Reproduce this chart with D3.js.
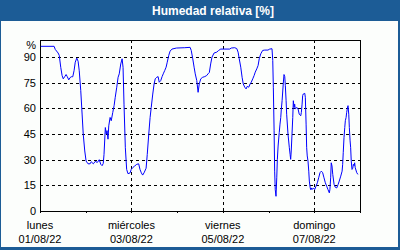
<!DOCTYPE html>
<html>
<head>
<meta charset="utf-8">
<title>Humedad relativa</title>
<style>
  body { margin: 0; background: #fff; }
  svg text { font-family: "Liberation Sans", Arial, sans-serif; }
  .grid line { stroke: #000; stroke-dasharray: 3,3; }
  .axis path, .axis line { stroke: #000; }
</style>
</head>
<body>
<div id="chart"></div>
<script src="https://d3js.org/d3.v7.min.js"></script>
<script>
// horas desde el lunes 01/08/22 00:00 y humedad relativa (%)
const hours = [0.4, 7.4, 8.0, 9.5, 10.1, 10.9, 11.6, 12.2, 13.0, 13.7, 14.3, 15.1, 15.8, 16.4, 17.2, 17.9, 18.5, 19.3, 20.0, 20.6,
  21.4, 22.1, 22.7, 23.5, 24.2, 25.2, 26.3, 26.9, 28.0, 29.0, 30.1, 31.1, 31.9, 32.6, 33.2, 33.6, 34.3, 34.8, 35.2, 35.7,
  36.1, 36.8, 37.4, 38.2, 38.9, 39.5, 40.3, 41.0, 41.6, 42.4, 43.1, 43.6, 44.1, 44.8, 45.5, 46.2, 47.3, 47.9, 48.8, 49.7,
  50.8, 51.8, 52.5, 53.2, 53.9, 54.6, 55.7, 56.3, 57.1, 57.8, 58.4, 59.2, 59.9, 60.5, 61.3, 62.0, 62.6, 63.4, 64.1, 64.7,
  65.5, 66.2, 66.8, 67.6, 68.3, 69.3, 71.6, 76.0, 78.8, 79.4, 80.2, 80.9, 81.5, 82.3, 83.0, 83.6, 84.4, 85.4, 86.5, 87.5,
  88.2, 88.9, 89.6, 90.3, 91.4, 92.8, 93.8, 94.9, 99.6, 100.4, 102.2, 103.3, 104.0, 104.6, 105.4, 106.1, 106.7, 107.5, 108.2, 108.8,
  109.6, 110.3, 110.9, 111.7, 112.4, 113.0, 113.8, 114.5, 115.1, 115.9, 116.9, 118.0, 119.7, 120.6, 121.8, 122.2, 122.5, 122.9, 123.2, 123.5,
  123.9, 124.3, 124.6, 125.0, 125.6, 126.0, 126.4, 126.7, 127.1, 127.7, 128.1, 128.5, 128.8, 129.2, 129.5, 130.2, 130.9, 131.3, 131.6, 131.9,
  132.3, 132.7, 133.0, 133.4, 133.7, 134.0, 134.8, 135.5, 136.1, 136.9, 137.2, 137.6, 137.9, 138.2, 139.0, 139.3, 139.7, 140.0, 140.3, 140.7,
  141.1, 141.4, 141.8, 142.1, 142.4, 142.8, 143.5, 144.2, 144.9, 145.6, 146.3, 147.0, 147.7, 148.4, 149.1, 149.8, 150.5, 151.2, 151.9, 152.2,
  152.6, 152.9, 153.3, 153.7, 154.4, 155.0, 155.8, 156.5, 157.1, 157.9, 158.6, 158.9, 159.2, 159.6, 160.0, 160.3, 160.7, 161.0, 161.3, 161.7,
  162.1, 162.4, 162.8, 163.1, 163.4, 163.8, 164.2, 164.5, 164.9, 165.2, 165.5, 166.3, 166.9];
const humedad = [96.3, 96.3, 94.5, 92.4, 91, 84, 79.2, 77.3, 78.6, 79.8, 78.6, 76.7, 78, 78.5, 78.5, 82.2, 87, 89.4, 87.6, 82,
  70.4, 56.7, 44.9, 35.1, 29.2, 27.6, 27.6, 28.8, 27.6, 29, 28.4, 30, 27.3, 26.5, 27.8, 33, 48.8, 45, 47, 42,
  49.8, 54.7, 52.8, 57.6, 61.6, 66.5, 72.4, 78.2, 80.2, 86, 89, 84, 62.5, 37, 24.3, 21.8, 22.3, 24.3, 25.5, 26.3,
  27.3, 27.6, 24.3, 22.3, 21, 22.3, 25, 33, 44.9, 54.7, 60.6, 68.4, 74.3, 77.3, 78.2, 78.6, 75.3, 76.3, 78.6, 80.2,
  82.2, 84.1, 87, 91, 93.5, 94.7, 95.3, 95.5, 95.7, 93.9, 89, 84.1, 80.2, 76.3, 69.4, 74.3, 77.3, 78.2, 78.6, 79.2,
  80.2, 81, 86, 90, 92.4, 92.9, 93.9, 94.7, 94.7, 95.3, 95.5, 95, 92.9, 89, 84.1, 78.2, 74.3, 72.4, 71.4, 72.9,
  72.4, 74.3, 75.3, 77.3, 79.2, 81.2, 83.1, 85.1, 89, 91.9, 93.9, 94.1, 94.1, 94.7, 94.9, 88, 72.4, 46.9, 23.3, 12.5,
  8.6, 19.4, 30, 38, 45.9, 50.8, 54.7, 59.6, 64.5, 74.3, 79.8, 78.6, 73.3, 64.5, 56.6, 44.9, 37, 33.1, 30.2, 35.1,
  44.9, 54.7, 64.5, 60.6, 62.5, 59.6, 60.6, 59.6, 56.6, 55.7, 57.6, 62.5, 67.5, 68.4, 68.8, 66.5, 50.8, 37, 32.2, 29.2,
  23.3, 17.5, 13.9, 12.5, 13.5, 12.5, 13.5, 12.5, 14.5, 16.5, 19.4, 22.4, 23.3, 22.4, 19.4, 16.5, 14.5, 12.5, 10.6, 12.5,
  19.4, 28.2, 26.3, 21.4, 15.5, 13.9, 13.5, 15.5, 17.5, 20.4, 23.3, 27.3, 34.1, 42.9, 48.8, 52.8, 54.7, 57.6, 59.6, 61.6,
  56.6, 48.8, 41, 37, 29.2, 24.3, 25, 27.3, 26.5, 28.2, 25.3, 22.4, 21.4];

const dayNames = ["lunes", "miércoles", "viernes", "domingo"];
const dateLabels = ["01/08/22", "03/08/22", "05/08/22", "07/08/22"];
const yTicks = [0, 15, 30, 45, 60, 75, 90];
const titulo = "Humedad relativa [%]";

const w = 400, h = 250;
const m = {left: 40, right: 40, top: 40, bottom: 39};
const t0 = new Date(2022, 7, 1);
const toDate = hr => new Date(t0.getTime() + hr * 3600e3);

const svg = d3.select("#chart").append("svg").attr("width", w).attr("height", h);

// marco azul y barra de título
svg.append("rect").attr("x", 0).attr("y", 0).attr("width", w).attr("height", h).attr("fill", "#1c5c96");
svg.append("rect").attr("x", 1).attr("y", 21).attr("width", w - 3).attr("height", h - 24).attr("fill", "#fcfefc");
svg.append("text").text(titulo)
  .attr("x", 213).attr("y", 14.5)
  .attr("text-anchor", "middle")
  .attr("font-size", "12px").attr("font-weight", "bold")
  .attr("fill", "#fff");

const x = d3.scaleTime().domain([t0, d3.timeDay.offset(t0, 7)]).range([m.left, w - m.right]);
const y = d3.scaleLinear().domain([0, 100]).range([h - m.bottom - 0.5 + 0.5, m.top]);

const majorDays = d3.range(0, 7, 2).map(d => d3.timeDay.offset(t0, d));
const minorDays = d3.range(1, 8, 2).map(d => d3.timeDay.offset(t0, d));

// cuadrícula
svg.append("g").attr("class", "grid")
  .attr("transform", "translate(" + m.left + ",0)")
  .call(d3.axisLeft(y).tickValues(yTicks.slice(1)).tickSize(-(w - m.left - m.right)).tickFormat(""))
  .call(g => g.select(".domain").remove())
  .attr("shape-rendering", "crispEdges");
svg.append("g").attr("class", "grid")
  .attr("transform", "translate(0," + (h - m.bottom) + ")")
  .call(d3.axisBottom(x).tickValues(majorDays.slice(1)).tickSize(-(h - m.top - m.bottom)).tickFormat(""))
  .call(g => g.select(".domain").remove())
  .attr("shape-rendering", "crispEdges");

// eje x: marcas
svg.append("g").attr("class", "axis")
  .attr("transform", "translate(0," + (h - m.bottom) + ")")
  .call(d3.axisBottom(x).tickValues(majorDays.concat(minorDays)).tickSize(2).tickSizeOuter(0).tickFormat(""))
  .attr("shape-rendering", "crispEdges");

// marco del área
svg.append("rect")
  .attr("x", m.left + 0.5).attr("y", m.top + 0.5)
  .attr("width", w - m.left - m.right).attr("height", h - m.top - m.bottom)
  .attr("fill", "none").attr("stroke", "#000");

// etiquetas eje x
const xl = svg.append("g").selectAll("text").data(majorDays).join("text")
  .attr("x", d => x(d)).attr("text-anchor", "middle")
  .attr("font-size", "11px").attr("fill", "#000");
xl.append("tspan").attr("x", d => x(d)).attr("y", 229).text((d, i) => dayNames[i]);
xl.append("tspan").attr("x", d => x(d)).attr("y", 243).text((d, i) => dateLabels[i]);

// etiquetas eje y
svg.append("g").selectAll("text").data(yTicks).join("text")
  .attr("x", 36).attr("y", d => y(d) + 4)
  .attr("text-anchor", "end").attr("font-size", "11px").attr("fill", "#000")
  .text(d => d);
svg.append("text").text("%").attr("x", 36).attr("y", 49)
  .attr("text-anchor", "end").attr("font-size", "11px").attr("fill", "#000");

// serie
const line = d3.line().x((d, i) => x(toDate(hours[i]))).y(d => y(d));
svg.append("path").datum(humedad)
  .attr("d", line)
  .attr("fill", "none").attr("stroke", "#0000ff").attr("stroke-width", 1);
</script>
</body>
</html>
